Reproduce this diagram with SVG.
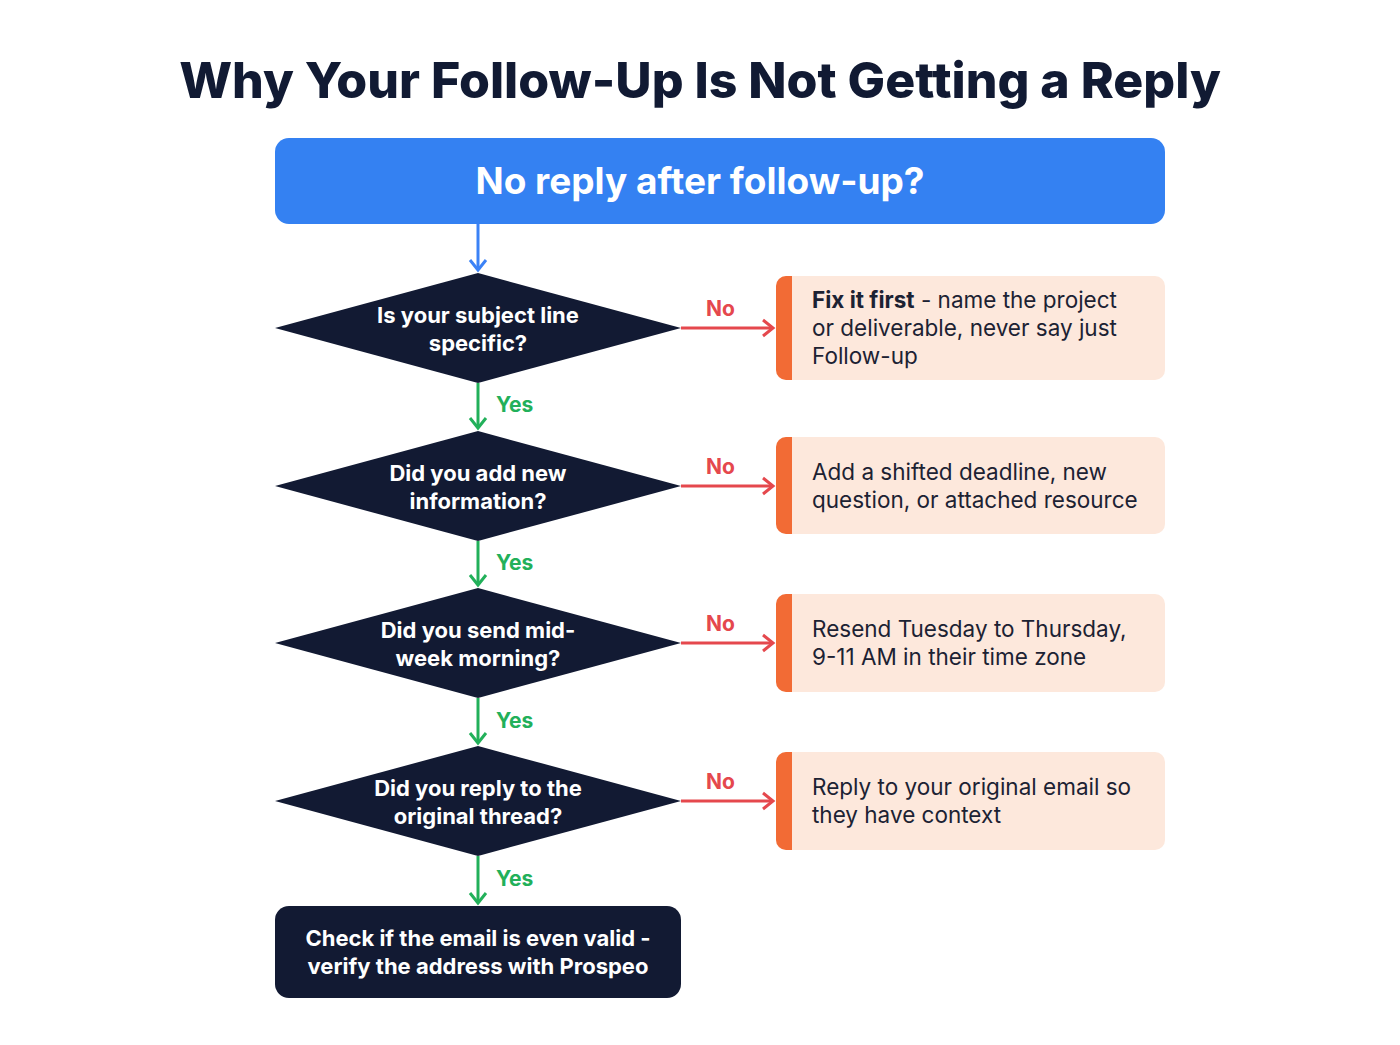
<svg xmlns="http://www.w3.org/2000/svg" width="1400" height="1045" viewBox="0 0 1400 1045">
<style>
.t{font-family:Inter,"Liberation Sans",sans-serif}
.dt{font-family:Inter,"Liberation Sans",sans-serif;font-size:22px;font-weight:700;fill:#fff;text-anchor:middle}
.bt{font-family:Inter,"Liberation Sans",sans-serif;font-size:22.5px;fill:#1c2233}
.dia{fill:#121a33}
.box{fill:#fde8dc}
.acc{fill:#f26b35}
.g{stroke:#22b05a;stroke-width:3;fill:none}
.r{stroke:#e5484d;stroke-width:3;fill:none}
.gl{font-family:Inter,"Liberation Sans",sans-serif;font-size:21px;font-weight:700;fill:#22b05a}
.rl{font-family:Inter,"Liberation Sans",sans-serif;font-size:21px;font-weight:700;fill:#e5484d}
</style>
<defs>
<marker id="mg" markerWidth="20" markerHeight="20" refX="16" refY="10" orient="auto" markerUnits="userSpaceOnUse"><path d="M6,2 L16,10 L6,18" fill="none" stroke="#22b05a" stroke-width="3"/></marker>
<marker id="mr" markerWidth="20" markerHeight="20" refX="16" refY="10" orient="auto" markerUnits="userSpaceOnUse"><path d="M6,2 L16,10 L6,18" fill="none" stroke="#e5484d" stroke-width="3"/></marker>
<marker id="mb" markerWidth="20" markerHeight="20" refX="16" refY="10" orient="auto" markerUnits="userSpaceOnUse"><path d="M6,2 L16,10 L6,18" fill="none" stroke="#3b82f6" stroke-width="3"/></marker>
</defs>
<rect width="1400" height="1045" fill="#fff"/>
<text class="t" x="700" y="98" text-anchor="middle" font-size="50" font-weight="800" fill="#111a33">Why Your Follow-Up Is Not Getting a Reply</text>
<g id="start"><rect x="275" y="138" width="890" height="86" rx="14" fill="#3481f2"/><text class="t" x="700" y="194" text-anchor="middle" font-size="37" font-weight="700" fill="#fff">No reply after follow-up?</text></g>
<g id="d1"><polygon class="dia" points="275,328 478,273 681,328 478,383"/><text class="dt" x="478" y="323">Is your subject line</text><text class="dt" x="478" y="351">specific?</text></g>
<g id="d2"><polygon class="dia" points="275,486 478,431 681,486 478,541"/><text class="dt" x="478" y="481">Did you add new</text><text class="dt" x="478" y="509">information?</text></g>
<g id="d3"><polygon class="dia" points="275,643 478,588 681,643 478,698"/><text class="dt" x="478" y="638">Did you send mid-</text><text class="dt" x="478" y="666">week morning?</text></g>
<g id="d4"><polygon class="dia" points="275,801 478,746 681,801 478,856"/><text class="dt" x="478" y="796">Did you reply to the</text><text class="dt" x="478" y="824">original thread?</text></g>
<g id="end"><rect x="275" y="906" width="406" height="92" rx="14" fill="#121a33"/><text class="dt" x="478" y="946">Check if the email is even valid -</text><text class="dt" x="478" y="974">verify the address with Prospeo</text></g>
<g id="b1"><rect class="box" x="776" y="276" width="389" height="104" rx="10"/><path class="acc" d="M786,276 h6 v104 h-6 a10,10 0 0 1 -10,-10 v-84 a10,10 0 0 1 10,-10z"/><text class="bt" x="812" y="308"><tspan font-weight="700">Fix it first</tspan> - name the project</text><text class="bt" x="812" y="336">or deliverable, never say just</text><text class="bt" x="812" y="364">Follow-up</text></g>
<g id="b2"><rect class="box" x="776" y="437" width="389" height="97" rx="10"/><path class="acc" d="M786,437 h6 v97 h-6 a10,10 0 0 1 -10,-10 v-77 a10,10 0 0 1 10,-10z"/><text class="bt" x="812" y="480">Add a shifted deadline, new</text><text class="bt" x="812" y="508">question, or attached resource</text></g>
<g id="b3"><rect class="box" x="776" y="594" width="389" height="98" rx="10"/><path class="acc" d="M786,594 h6 v98 h-6 a10,10 0 0 1 -10,-10 v-78 a10,10 0 0 1 10,-10z"/><text class="bt" x="812" y="637">Resend Tuesday to Thursday,</text><text class="bt" x="812" y="665">9-11 AM in their time zone</text></g>
<g id="b4"><rect class="box" x="776" y="752" width="389" height="98" rx="10"/><path class="acc" d="M786,752 h6 v98 h-6 a10,10 0 0 1 -10,-10 v-78 a10,10 0 0 1 10,-10z"/><text class="bt" x="812" y="795">Reply to your original email so</text><text class="bt" x="812" y="823">they have context</text></g>
<g id="connectors">
<line x1="478" y1="224" x2="478" y2="270" stroke="#3b82f6" stroke-width="3" marker-end="url(#mb)"/>
<line class="g" x1="478" y1="383" x2="478" y2="428" marker-end="url(#mg)"/><text class="gl" x="496" y="412">Yes</text>
<line class="g" x1="478" y1="541" x2="478" y2="585" marker-end="url(#mg)"/><text class="gl" x="496" y="570">Yes</text>
<line class="g" x1="478" y1="698" x2="478" y2="743" marker-end="url(#mg)"/><text class="gl" x="496" y="728">Yes</text>
<line class="g" x1="478" y1="856" x2="478" y2="903" marker-end="url(#mg)"/><text class="gl" x="496" y="886">Yes</text>
<line class="r" x1="681" y1="328" x2="773" y2="328" marker-end="url(#mr)"/><text class="rl" x="706" y="316">No</text>
<line class="r" x1="681" y1="486" x2="773" y2="486" marker-end="url(#mr)"/><text class="rl" x="706" y="474">No</text>
<line class="r" x1="681" y1="643" x2="773" y2="643" marker-end="url(#mr)"/><text class="rl" x="706" y="631">No</text>
<line class="r" x1="681" y1="801" x2="773" y2="801" marker-end="url(#mr)"/><text class="rl" x="706" y="789">No</text>
</g>
</svg>
